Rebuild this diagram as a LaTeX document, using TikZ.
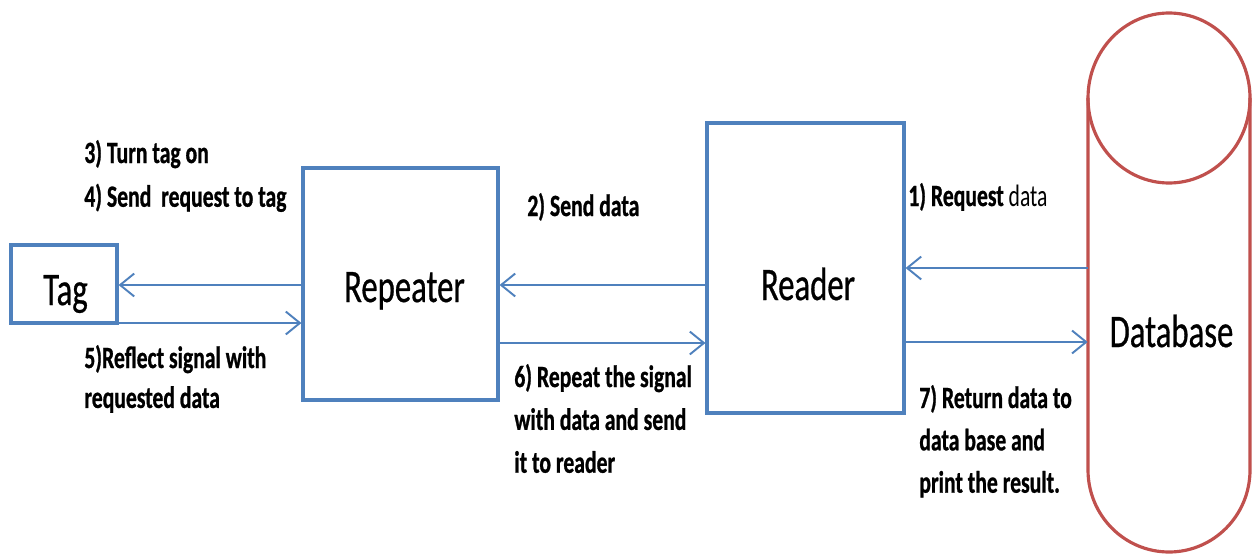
\documentclass[tikz,border=0pt]{standalone}
\usepackage{fontspec}
\usetikzlibrary{arrows.meta}
% condensed Calibri-like faces for box titles and step notes
\newfontfamily\boxfont[FakeStretch=0.70,FakeBold=0.6]{Carlito}
\newfontfamily\notefont[FakeStretch=0.70,BoldFeatures={FakeBold=0.8}]{Carlito}
\definecolor{boxblue}{HTML}{4F81BD}
\definecolor{dbred}{HTML}{C0504D}
\newdimen\px \px=0.02cm
\newcommand{\rows}[1]{\begin{tabular}[t]{@{}l@{}}#1\end{tabular}}
\tikzset{
  blockbox/.style={draw=boxblue, line width=1.8pt, inner sep=0pt, fill=white},
  title/.style={anchor=base, inner sep=0pt, font=\boxfont\fontsize{26.6pt}{32pt}\selectfont},
  note/.style={anchor=base west, inner sep=0pt, font={\notefont\bfseries\fontsize{17.6pt}{#1}\selectfont}},
  note/.default=24.4pt,
  arr/.style={draw=boxblue, line width=1.1pt, -{Straight Barb[length=8pt,width=13pt,line width=1.1pt]}},
  dbline/.style={draw=dbred, line width=1.8pt}
}
\begin{document}
\begin{tikzpicture}[x=0.02cm, y=-0.02cm]
  \fill[white] (0,0) rectangle (1253,554);
  \useasboundingbox (0,0) rectangle (1253,554);

  % blocks
  \node[blockbox, minimum width=106\px, minimum height=78\px] (tag) at (64,284) {};
  \node[blockbox, minimum width=195\px, minimum height=232\px] (rep) at (400.5,284) {};
  \node[blockbox, minimum width=197\px, minimum height=290\px] (rdr) at (805.5,268) {};
  \node[minimum width=162\px, minimum height=539\px, inner sep=0pt] (db) at (1169,282.5) {};

  % database cylinder
  \draw[dbline] (1088,98) -- (1088,470)
    arc[start angle=180, end angle=0, x radius=81, y radius=82] -- (1250,98);
  \draw[dbline] (1169,98) ellipse[x radius=81, y radius=85];

  % block titles
  \node[title] (tagtext) at (65.5,305) {Tag};
  \node[title] (reptext) at (404.5,302) {Repeater};
  \node[title] (rdrtext) at (808,300) {Reader};
  \node[title] (dbtext) at (1171.5,347) {Database};

  % signal flow
  \draw[arr] (rep.west |- 0,285) -- (tag.east |- 0,285);
  \draw[arr] (tag.east |- 0,323) -- (rep.west |- 0,323);
  \draw[arr] (rdr.west |- 0,285) -- (rep.east |- 0,285);
  \draw[arr] (rep.east |- 0,343) -- (rdr.west |- 0,343);
  \draw[arr] (db.west |- 0,268) -- (rdr.east |- 0,268);
  \draw[arr] (rdr.east |- 0,342) -- (db.west |- 0,342);

  % step notes
  \node[note=24.9pt] (s34) at (84,163) {\rows{3) Turn tag on\\4) Send\ \ request to tag}};
  \node[note=22.7pt] (s5) at (84,368) {\rows{5)Reflect signal with\\requested data}};
  \node[note] (s2) at (527,216) {2) Send data};
  \node[note=24.4pt] (s6) at (514,387) {\rows{6) Repeat the signal\\with data and send\\it to reader}};
  \node[note] (s1) at (908,206) {1) Request \mdseries data};
  \node[note=24.1pt] (s7) at (919,408) {\rows{7) Return data to\\data base and\\print the result.}};
\end{tikzpicture}
\end{document}
